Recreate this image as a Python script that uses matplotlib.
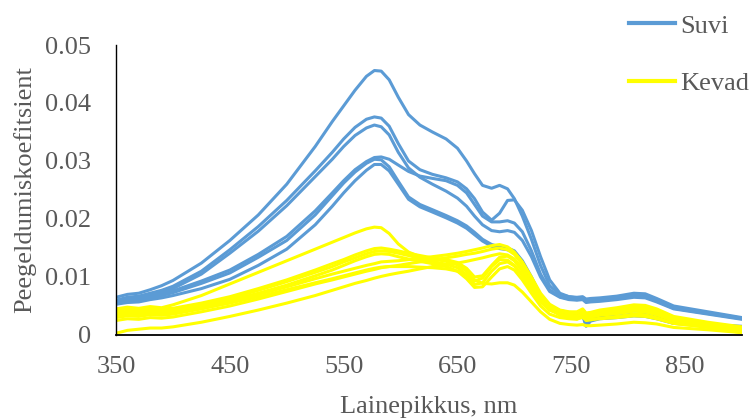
import matplotlib
matplotlib.use('Agg')
import matplotlib.pyplot as plt
from matplotlib.lines import Line2D

# wavelengths, nm
wl = [350, 360, 370, 380, 390, 400, 425, 450, 475, 500,
      525, 540, 550, 560, 570, 577, 583, 590, 598, 607,
      617, 628, 640, 650, 658, 665, 672, 680, 687, 694,
      700, 707, 715, 723, 731, 740, 748, 755, 760, 763,
      767, 775, 790, 805, 815, 825, 840, 870, 900]

# Suvi (summer)
suvi_1 = [.0065, .0070, .0072, .0078, .0085, .0094, .0124, .0163, .0207, .0260,
          .0325, .0368, .0395, .0422, .0446, .0456, .0455, .0440, .0410, .0380,
          .0362, .0350, .0338, .0322, .0300, .0278, .0258, .0253, .0258, .0252,
          .0235, .0205, .0165, .0120, .0085, .0070, .0066, .0065, .0066, .0062,
          .0063, .0064, .0067, .0072, .0071, .0063, .0050, .0040, .0030]
suvi_2 = [.0060, .0065, .0067, .0072, .0077, .0084, .0110, .0147, .0187, .0232,
          .0283, .0315, .0338, .0358, .0372, .0376, .0374, .0360, .0330, .0300,
          .0285, .0277, .0271, .0264, .0252, .0235, .0212, .0198, .0210, .0232,
          .0233, .0215, .0180, .0135, .0095, .0072, .0066, .0064, .0065, .0060,
          .0061, .0062, .0064, .0068, .0067, .0060, .0048, .0038, .0029]
suvi_3 = [.0058, .0062, .0064, .0069, .0074, .0080, .0105, .0141, .0179, .0223,
          .0273, .0303, .0325, .0344, .0357, .0362, .0359, .0345, .0315, .0288,
          .0272, .0260, .0248, .0236, .0222, .0205, .0190, .0180, .0178, .0180,
          .0177, .0163, .0135, .0100, .0075, .0065, .0061, .0060, .0061, .0056,
          .0057, .0058, .0061, .0065, .0064, .0057, .0045, .0036, .0027]
suvi_4 = [.0057, .0060, .0062, .0066, .0070, .0076, .0093, .0112, .0139, .0170,
          .0214, .0245, .0266, .0285, .0299, .0306, .0307, .0303, .0293, .0282,
          .0274, .0270, .0266, .0258, .0245, .0225, .0205, .0195, .0195, .0197,
          .0193, .0178, .0145, .0105, .0078, .0066, .0062, .0061, .0062, .0058,
          .0059, .0060, .0063, .0067, .0066, .0059, .0046, .0037, .0028]
suvi_5 = [.0055, .0058, .0060, .0064, .0068, .0073, .0089, .0107, .0134, .0163,
          .0207, .0240, .0262, .0281, .0296, .0303, .0302, .0290, .0265, .0238,
          .0225, .0216, .0206, .0197, .0188, .0177, .0165, .0156, .0152, .0150,
          .0145, .0128, .0100, .0068, .0050, .0042, .0039, .0038, .0036, .0018,
          .0026, .0030, .0032, .0036, .0035, .0030, .0022, .0018, .0015]
suvi_6 = [.0053, .0056, .0057, .0061, .0064, .0068, .0080, .0096, .0120, .0148,
          .0190, .0222, .0245, .0266, .0284, .0294, .0294, .0283, .0260, .0234,
          .0221, .0212, .0202, .0193, .0184, .0173, .0162, .0153, .0149, .0147,
          .0142, .0124, .0096, .0064, .0047, .0040, .0037, .0036, .0034, .0015,
          .0024, .0028, .0030, .0033, .0032, .0028, .0020, .0017, .0014]

# Kevad (spring)
kevad_1 = [.0045, .0048, .0046, .0049, .0047, .0052, .0068, .0088, .0108, .0128,
           .0148, .0160, .0168, .0176, .0183, .0186, .0185, .0175, .0157, .0143,
           .0135, .0131, .0127, .0121, .0110, .0093, .0098, .0118, .0130, .0129,
           .0120, .0103, .0080, .0058, .0043, .0036, .0033, .0032, .0036, .0030,
           .0031, .0034, .0037, .0041, .0040, .0035, .0024, .0017, .0010]
kevad_2 = [.0042, .0045, .0043, .0046, .0045, .0046, .0055, .0066, .0080, .0095,
           .0112, .0123, .0130, .0138, .0145, .0149, .0150, .0148, .0145, .0141,
           .0137, .0133, .0130, .0125, .0115, .0100, .0102, .0120, .0134, .0136,
           .0128, .0110, .0085, .0062, .0047, .0040, .0038, .0037, .0042, .0034,
           .0035, .0039, .0042, .0047, .0046, .0040, .0028, .0020, .0012]
kevad_3 = [.0038, .0041, .0040, .0043, .0042, .0044, .0052, .0063, .0077, .0092,
           .0108, .0118, .0126, .0133, .0140, .0144, .0145, .0144, .0141, .0137,
           .0132, .0127, .0122, .0116, .0104, .0087, .0090, .0110, .0123, .0126,
           .0119, .0102, .0080, .0057, .0043, .0036, .0034, .0033, .0038, .0030,
           .0031, .0035, .0038, .0043, .0042, .0037, .0025, .0018, .0011]
kevad_4 = [.0035, .0038, .0037, .0040, .0039, .0041, .0049, .0060, .0072, .0086,
           .0102, .0112, .0120, .0128, .0135, .0139, .0140, .0139, .0135, .0131,
           .0127, .0123, .0118, .0110, .0097, .0082, .0083, .0100, .0114, .0118,
           .0112, .0095, .0072, .0050, .0036, .0030, .0028, .0027, .0032, .0025,
           .0026, .0029, .0032, .0036, .0035, .0030, .0020, .0014, .0008]
kevad_5 = [.0030, .0033, .0032, .0035, .0034, .0036, .0045, .0056, .0070, .0083,
           .0097, .0105, .0110, .0115, .0120, .0123, .0126, .0127, .0128, .0130,
           .0132, .0135, .0138, .0141, .0144, .0147, .0150, .0154, .0156, .0152,
           .0143, .0126, .0100, .0072, .0053, .0043, .0040, .0040, .0045, .0038,
           .0039, .0043, .0047, .0052, .0051, .0045, .0032, .0022, .0014]
kevad_6 = [.0025, .0028, .0027, .0030, .0029, .0031, .0040, .0050, .0062, .0075,
           .0088, .0095, .0100, .0105, .0110, .0113, .0116, .0118, .0120, .0123,
           .0126, .0129, .0133, .0136, .0139, .0141, .0144, .0148, .0150, .0147,
           .0139, .0122, .0097, .0069, .0051, .0041, .0038, .0037, .0042, .0036,
           .0037, .0041, .0044, .0049, .0048, .0042, .0030, .0020, .0013]
kevad_7 = [.0003, .0008, .0010, .0012, .0012, .0014, .0022, .0032, .0043, .0055,
           .0068, .0077, .0083, .0089, .0094, .0098, .0101, .0104, .0107, .0110,
           .0114, .0118, .0121, .0124, .0127, .0130, .0133, .0137, .0140, .0138,
           .0131, .0115, .0090, .0063, .0045, .0034, .0030, .0028, .0030, .0026,
           .0027, .0028, .0030, .0033, .0032, .0028, .0020, .0013, .0004]
kevad_8 = [.0033, .0036, .0035, .0038, .0037, .0039, .0046, .0055, .0066, .0078,
           .0090, .0097, .0102, .0107, .0112, .0115, .0117, .0118, .0118, .0118,
           .0117, .0116, .0114, .0110, .0103, .0095, .0089, .0088, .0090, .0090,
           .0086, .0074, .0057, .0040, .0027, .0020, .0018, .0017, .0018, .0016,
           .0016, .0017, .0019, .0022, .0021, .0019, .0013, .0009, .0004]

suvi = [suvi_1, suvi_2, suvi_3, suvi_4, suvi_5, suvi_6]
kevad = [kevad_1, kevad_2, kevad_3, kevad_4, kevad_5, kevad_6, kevad_7, kevad_8]

x_ticks = [350, 450, 550, 650, 750, 850]
y_ticks = [0, 0.01, 0.02, 0.03, 0.04, 0.05]
y_tick_labels = ['0', '0.01', '0.02', '0.03', '0.04', '0.05']

blue = '#5B9BD5'
yellow = '#FFFF00'
grey = '#595959'

plt.rcParams['font.family'] = ['Liberation Serif', 'DejaVu Serif']

fig = plt.figure(figsize=(7.52, 4.19), dpi=100)
ax = fig.add_axes([0.1543, 0.2005, 0.8324, 0.6921])

for s in suvi:
    ax.plot(wl, s, color=blue, lw=2.2, solid_joinstyle='round', solid_capstyle='round')
for k in kevad:
    ax.plot(wl, k, color=yellow, lw=2.2, solid_joinstyle='round', solid_capstyle='round')

ax.set_xlim(350, 900)
ax.set_ylim(0, 0.05)
ax.set_xticks(x_ticks)
ax.set_yticks(y_ticks)
ax.set_yticklabels(y_tick_labels)
ax.tick_params(axis='both', length=0, labelsize=19, colors=grey)
ax.tick_params(axis='y', pad=18)
ax.tick_params(axis='x', pad=15)

for side in ['top', 'right']:
    ax.spines[side].set_visible(False)
ax.spines['left'].set_color('black')
ax.spines['bottom'].set_color('black')
ax.spines['left'].set_linewidth(1.0)
ax.spines['bottom'].set_linewidth(1.3)

ax.set_xlabel('Lainepikkus, nm', fontsize=19, color=grey, labelpad=13)
ax.set_ylabel('Peegeldumiskoefitsient', fontsize=19, color=grey, labelpad=6)

handles = [Line2D([], [], color=blue, lw=3), Line2D([], [], color=yellow, lw=3)]
fig.legend(handles, ['Suvi', 'Kevad'], loc='upper left', bbox_to_anchor=(0.836, 0.966),
           frameon=False, fontsize=19, labelcolor=grey, handlelength=1.75,
           handletextpad=0.2, labelspacing=1.3, borderpad=0, borderaxespad=0)

fig.savefig('out.png', dpi=100)
